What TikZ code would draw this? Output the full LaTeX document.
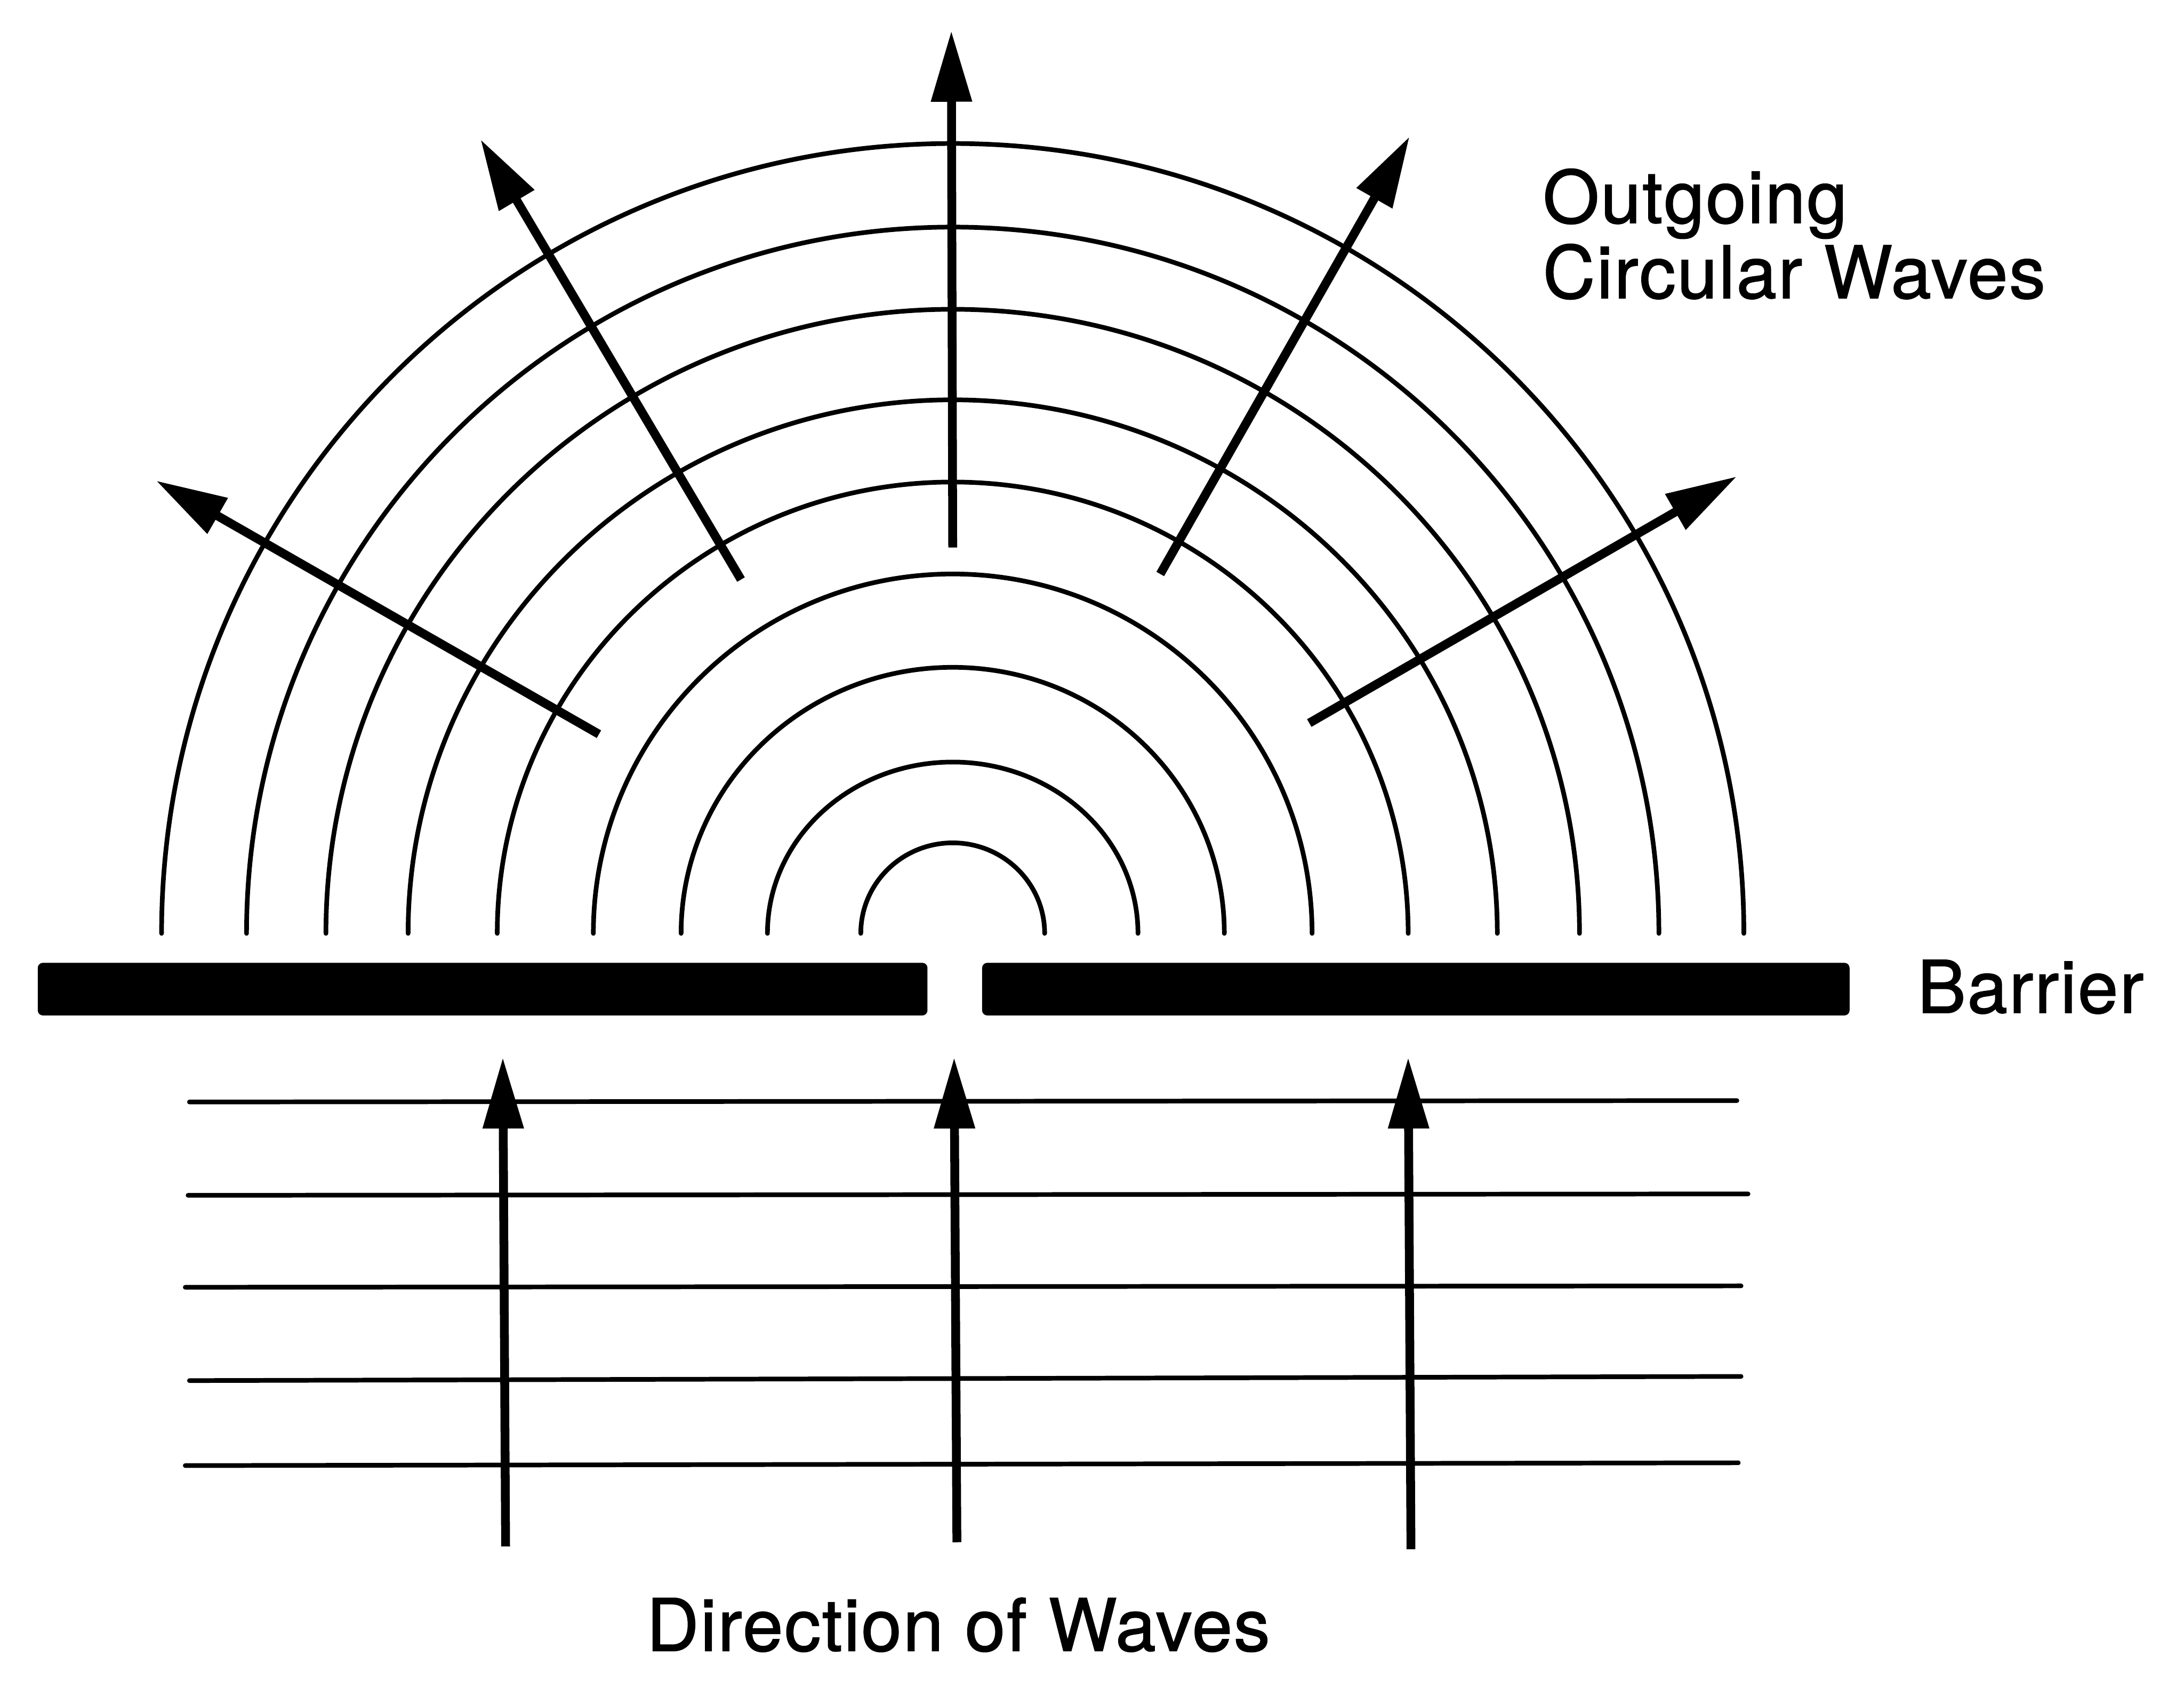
\documentclass[tikz,border=0pt]{standalone}
\usepackage{fontspec}
\setmainfont{TeX Gyre Heros}
\usetikzlibrary{arrows.meta}
\tikzset{
  wave/.style={line width=0.95pt, line cap=round},
  ray/.style={line width=1.8pt, -{Triangle[length=5.1mm,width=2.8mm]}},
  barrierbar/.style={fill=black, draw=black, line width=0.5pt, rounded corners=0.8},
  lbl/.style={inner sep=0pt, font=\fontsize{14.8}{17}\selectfont\addfontfeature{LetterSpace=2,FakeBold=1.3}}
}
\begin{document}
\begin{tikzpicture}[x=0.01cm, y=-0.01cm]
\useasboundingbox (0,0) rectangle (1568,1212);
% outgoing circular waves
\coordinate (c) at (684,670);
\foreach \rx/\ry in {66/65, 133/123, 195/191, 258/258, 327/324, 391/383, 450/448, 507/507, 568/567}{
  \draw[wave] ([xshift=-\rx*0.01cm]c) arc[start angle=180, end angle=360, x radius=\rx, y radius=\ry];
}
% barrier
\draw[barrierbar] (28,692) rectangle (665,728);
\draw[barrierbar] (706,692) rectangle (1327,728);
% incoming plane waves
\draw[wave] (136,791) -- (1247,790);
\draw[wave] (135,858) -- (1255,857);
\draw[wave] (133,924) -- (1250,923);
\draw[wave] (136,991) -- (1250,988);
\draw[wave] (133,1052) -- (1248,1050);
% incoming direction arrows
\coordinate (b1) at (363,1110); \coordinate (t1) at (361,759);
\coordinate (b2) at (687,1107); \coordinate (t2) at (685,759);
\coordinate (b3) at (1013,1112); \coordinate (t3) at (1011,759);
\draw[ray] (b1) -- (t1);
\draw[ray] (b2) -- (t2);
\draw[ray] (b3) -- (t3);
% outgoing rays
\coordinate (r90s) at (684,393);  \coordinate (r90e) at (683,22);
\coordinate (r120s) at (532,416); \coordinate (r120e) at (345,100);
\coordinate (r60s) at (833,412);  \coordinate (r60e) at (1012,98);
\coordinate (r150s) at (430,527); \coordinate (r150e) at (112,345);
\coordinate (r30s) at (940,519);  \coordinate (r30e) at (1247,342);
\draw[ray] (r90s) -- (r90e);
\draw[ray] (r120s) -- (r120e);
\draw[ray] (r60s) -- (r60e);
\draw[ray] (r150s) -- (r150e);
\draw[ray] (r30s) -- (r30e);
% labels
\node[lbl, anchor=base west] (out1) at (1107,160) {Outgoing};
\node[lbl, anchor=base west] (out2) at (1107,214) {Circular Waves};
\node[lbl, anchor=base west] (bar) at (1376,727) {Barrier};
\node[lbl, anchor=base] (dir) at (688,1185) {Direction of Waves};
\end{tikzpicture}
\end{document}
